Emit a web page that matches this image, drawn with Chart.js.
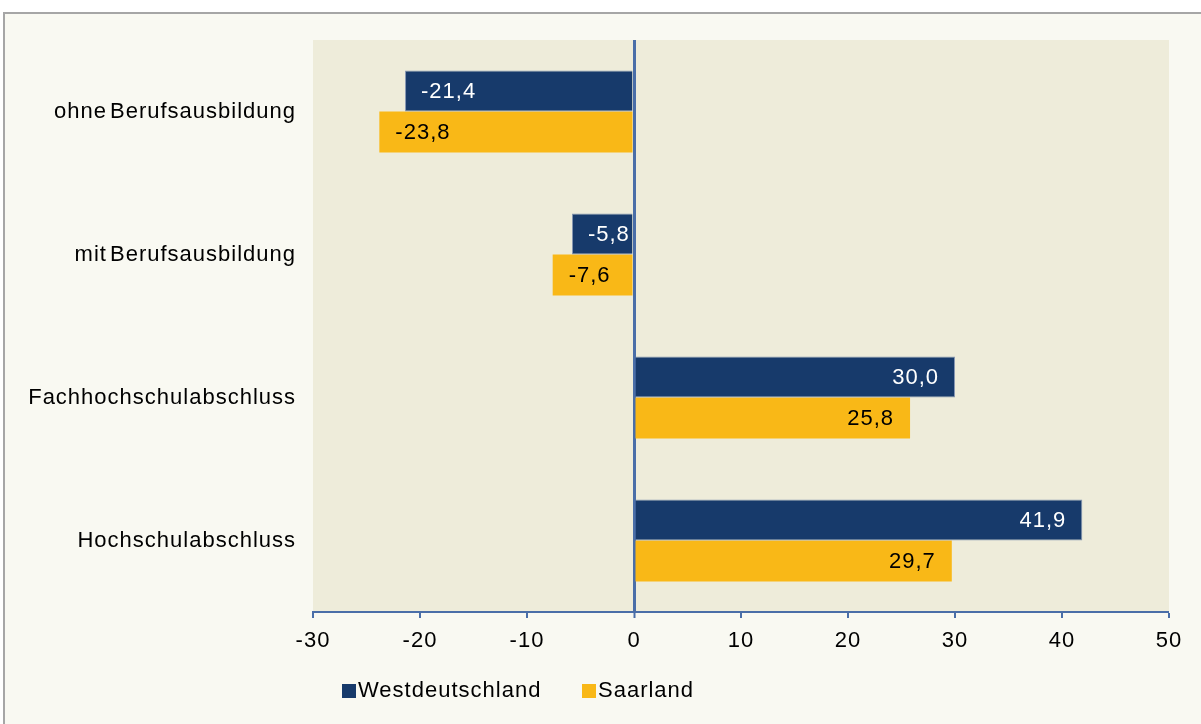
<!DOCTYPE html>
<html>
<head>
<meta charset="utf-8">
<script src="https://cdn.jsdelivr.net/npm/chart.js@4.4.1/dist/chart.umd.min.js"></script>
<style>
  html, body { margin: 0; padding: 0; background: #fff; }
  body { width: 1201px; height: 724px; position: relative; overflow: hidden; font-family: "Liberation Sans", Arial, sans-serif; }
  #panel { position: absolute; left: 3px; top: 12px; width: 1210px; height: 730px; border: 2px solid #a6a6a6; background: #f9f9f2; }
  #wrap { position: absolute; left: 0; top: 0; width: 1201px; height: 724px; }
  .legend { position: absolute; top: 678px; font-size: 22px; color: #000; line-height: 24px; white-space: nowrap; letter-spacing: 1px; }
  .legend i { display: inline-block; width: 14px; height: 14px; vertical-align: -1px; margin-right: 2px; }
</style>
</head>
<body>
<div id="panel"></div>
<div id="wrap"><canvas id="chart" width="1201" height="724"></canvas></div>
<div class="legend" style="left:342px"><i style="background:#173a6b"></i>Westdeutschland</div>
<div class="legend" style="left:582px"><i style="background:#f9b817"></i>Saarland</div>
<script>
const categories = ['ohne Berufsausbildung', 'mit Berufsausbildung', 'Fachhochschulabschluss', 'Hochschulabschluss'];
const westdeutschland = [-21.4, -5.8, 30.0, 41.9];
const saarland = [-23.8, -7.6, 25.8, 29.7];
const xTicks = [-30, -20, -10, 0, 10, 20, 30, 40, 50];

const blue = '#173a6b';
const yellow = '#f9b817';
const axisBlue = '#4a6ea8';
const fontFamily = '"Liberation Sans", Arial, sans-serif';

// Hintergrund der Zeichenfläche + etwas breitere Schrift wie im Original
const plotBg = {
  id: 'plotBg',
  beforeDraw(chart) {
    const { ctx, chartArea: a } = chart;
    ctx.letterSpacing = '1px';
    ctx.wordSpacing = '-4px';
    ctx.save();
    ctx.fillStyle = '#eeecda';
    ctx.fillRect(a.left, a.top, a.right - a.left, a.bottom - a.top);
    ctx.restore();
  }
};

// Werte innen am Balkenende
const barLabels = {
  id: 'barLabels',
  afterDatasetsDraw(chart) {
    const ctx = chart.ctx;
    ctx.save();
    ctx.font = '22px ' + fontFamily;
    ctx.textBaseline = 'middle';
    chart.data.datasets.forEach((ds, di) => {
      chart.getDatasetMeta(di).data.forEach((bar, i) => {
        const v = ds.data[i];
        const txt = v.toFixed(1).replace('.', ',');
        ctx.fillStyle = di === 0 ? '#ffffff' : '#000000';
        if (v < 0) {
          ctx.textAlign = 'left';
          ctx.fillText(txt, bar.x + 16, bar.y + 1);
        } else {
          ctx.textAlign = 'right';
          ctx.fillText(txt, bar.x - 16, bar.y + 1);
        }
      });
    });
    ctx.restore();
  }
};

new Chart(document.getElementById('chart').getContext('2d'), {
  type: 'bar',
  data: {
    labels: categories,
    datasets: [
      { label: 'Westdeutschland', data: westdeutschland, backgroundColor: blue, borderColor: '#8797b3', borderWidth: 1, borderSkipped: 'start' },
      { label: 'Saarland', data: saarland, backgroundColor: yellow, borderWidth: 0 }
    ]
  },
  options: {
    indexAxis: 'y',
    responsive: false,
    animation: false,
    categoryPercentage: 0.574,
    barPercentage: 1,
    layout: { padding: { top: 40, right: 32, left: 0, bottom: 0 } },
    plugins: {
      legend: { display: false },
      tooltip: { enabled: false }
    },
    scales: {
      x: {
        min: -30,
        max: 50,
        afterBuildTicks: s => { s.ticks = xTicks.map(v => ({ value: v })); },
        afterFit: s => { s.height = 112; },
        border: { display: true, color: axisBlue, width: 2 },
        grid: {
          drawOnChartArea: true,
          color: c => (c.tick && c.tick.value === 0 ? axisBlue : 'rgba(0,0,0,0)'),
          lineWidth: c => (c.tick && c.tick.value === 0 ? 3 : 0),
          tickColor: axisBlue,
          tickWidth: 2,
          tickLength: 6
        },
        ticks: {
          color: '#000',
          padding: 10,
          maxRotation: 0,
          font: { family: fontFamily, size: 22 },
          callback: v => String(v)
        }
      },
      y: {
        afterFit: s => { s.width = 313; },
        border: { display: false },
        grid: { display: false, drawTicks: false },
        ticks: {
          color: '#000',
          padding: 17,
          font: { family: fontFamily, size: 22 }
        }
      }
    }
  },
  plugins: [plotBg, barLabels]
});
</script>
</body>
</html>
